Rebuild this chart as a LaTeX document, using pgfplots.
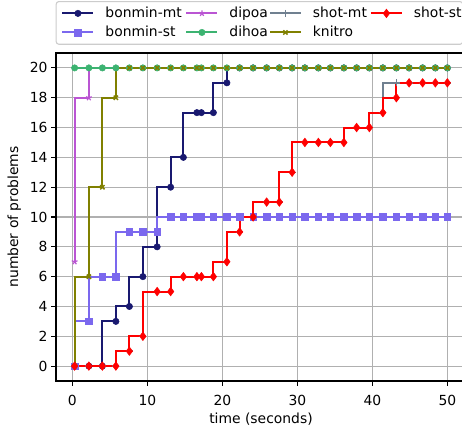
\documentclass[border=0pt]{standalone}
\usepackage{pgfplots}
\pgfplotsset{compat=1.18}
\usepackage{pgfplotstable}
\usepackage{fontspec}
\setmainfont{DejaVu Sans}
\definecolor{cbmt}{HTML}{191970}
\definecolor{cbst}{HTML}{7B68EE}
\definecolor{cdipoa}{HTML}{BA55D3}
\definecolor{cdihoa}{HTML}{3CB371}
\definecolor{csmt}{HTML}{708090}
\definecolor{ckn}{HTML}{808000}
\definecolor{csst}{HTML}{FF0000}
\definecolor{gridgray}{HTML}{B0B0B0}
\definecolor{leggray}{HTML}{CCCCCC}

\pgfplotstableread{
x bmt bst dipoa dihoa smt kn sst
0.3 0 0 7 20 0 0 0
2.2 0 3 18 20 0 6 0
4.0 0 6 20 20 0 12 0
5.8 3 6 20 20 0 18 0
7.6 4 9 20 20 1 20 1
9.4 6 9 20 20 2 20 2
11.3 8 9 20 20 5 20 5
13.1 12 10 20 20 5 20 5
14.8 14 10 20 20 6 20 6
16.6 17 10 20 20 6 20 6
17.2 17 10 20 20 6 20 6
18.8 17 10 20 20 6 20 6
20.6 19 10 20 20 7 20 7
22.3 20 10 20 20 9 20 9
24.1 20 10 20 20 10 20 10
25.9 20 10 20 20 11 20 11
27.6 20 10 20 20 11 20 11
29.3 20 10 20 20 13 20 13
31.0 20 10 20 20 15 20 15
32.8 20 10 20 20 15 20 15
34.4 20 10 20 20 15 20 15
36.2 20 10 20 20 15 20 15
37.9 20 10 20 20 16 20 16
39.6 20 10 20 20 16 20 16
41.4 20 10 20 20 17 20 17
43.2 20 10 20 20 19 20 18
44.9 20 10 20 20 19 20 19
46.7 20 10 20 20 19 20 19
48.4 20 10 20 20 19 20 19
50.0 20 10 20 20 19 20 19
}\data

\newcommand{\fs}{\fontsize{13.9}{16.7}\selectfont}
\newcommand{\legtext}[2]{\makebox[#1][l]{\vphantom{bp}#2}}

\begin{document}
\begin{tikzpicture}
\path[use as bounding box] (-56pt,-50pt) rectangle (406pt,381pt);
\begin{axis}[
  at={(0pt,0pt)}, anchor=south west,
  scale only axis, width=410pt, height=328pt,
  xmin=-2.185, xmax=52.485, ymin=-1, ymax=21,
  xtick={0,10,20,30,40,50}, ytick={0,2,...,20},
  xtick pos=left, ytick pos=left,
  grid=major, major grid style={draw=gridgray, line width=1.1pt},
  axis line style={line width=1.1pt},
  tick align=outside, major tick length=4.9pt,
  tick style={black, line width=1.1pt},
  ticklabel style={font=\fs},
  xticklabel style={yshift=-6pt},
  /pgf/number format/assume math mode=true,
  xlabel={time (seconds)}, ylabel={number of problems},
  label style={font=\fs},
  ylabel style={yshift=2pt},
  every axis plot/.append style={line width=2pt},
  legend image code/.code={\draw[mark repeat=2,mark phase=2] plot coordinates {(0pt,0pt) (15.5pt,0pt) (31pt,0pt)}; \path (42pt,0pt);},
  legend cell align=left,
  legend style={at={(axis description cs:-0.001,1.1585)}, anchor=north west,
    draw=leggray, line width=1.1pt, rounded corners=2.8pt, fill=white,
    font=\fs, inner xsep=5.3pt, inner ysep=5.8pt, row sep=7pt,
    nodes={inner sep=0pt}},
  legend columns=4,
]
\addplot[const plot mark right, color=cbmt, mark=*, mark size=3.2pt, mark options={solid, line width=0.5pt}, forget plot] table[x=x,y=bmt]{\data};
\addplot[const plot mark right, color=cbst, mark=square*, mark size=3.3pt, mark options={solid, line width=0.5pt}, forget plot] table[x=x,y=bst]{\data};
\addplot[const plot mark right, color=cdipoa, mark=star, mark size=3pt, mark options={solid, line width=1.2pt}, forget plot] table[x=x,y=dipoa]{\data};
\addplot[const plot mark right, color=cdihoa, mark=*, mark size=3.2pt, mark options={solid, line width=0.5pt}, forget plot] table[x=x,y=dihoa]{\data};
\addplot[const plot mark right, color=csmt, mark=+, mark size=3.5pt, mark options={solid, line width=1.5pt}, forget plot] table[x=x,y=smt]{\data};
\addplot[const plot mark right, color=ckn, mark=x, mark size=3pt, mark options={solid, line width=1.5pt}, forget plot] table[x=x,y=kn]{\data};
\addplot[const plot mark right, color=csst, mark=diamond*, mark size=4.3pt, mark options={solid, line width=0.5pt}, forget plot] table[x=x,y=sst]{\data};

\addlegendimage{color=cbmt, mark=*, mark size=3.2pt, mark options={solid, line width=0.5pt}}
\addlegendentry{\legtext{80pt}{bonmin-mt}}
\addlegendimage{color=cdipoa, mark=star, mark size=3pt, mark options={solid, line width=1.2pt}}
\addlegendentry{\legtext{39.5pt}{dipoa}}
\addlegendimage{color=csmt, mark=+, mark size=3.5pt, mark options={solid, line width=1.5pt}}
\addlegendentry{\legtext{57pt}{shot-mt}}
\addlegendimage{color=csst, mark=diamond*, mark size=4.3pt, mark options={solid, line width=0.5pt}}
\addlegendentry{\legtext{43.5pt}{shot-st}}
\addlegendimage{color=cbst, mark=square*, mark size=3.3pt, mark options={solid, line width=0.5pt}}
\addlegendentry{\legtext{80pt}{bonmin-st}}
\addlegendimage{color=cdihoa, mark=*, mark size=3.2pt, mark options={solid, line width=0.5pt}}
\addlegendentry{\legtext{39.5pt}{dihoa}}
\addlegendimage{color=ckn, mark=x, mark size=3pt, mark options={solid, line width=1.5pt}}
\addlegendentry{\legtext{57pt}{knitro}}
\end{axis}
\end{tikzpicture}
\end{document}
